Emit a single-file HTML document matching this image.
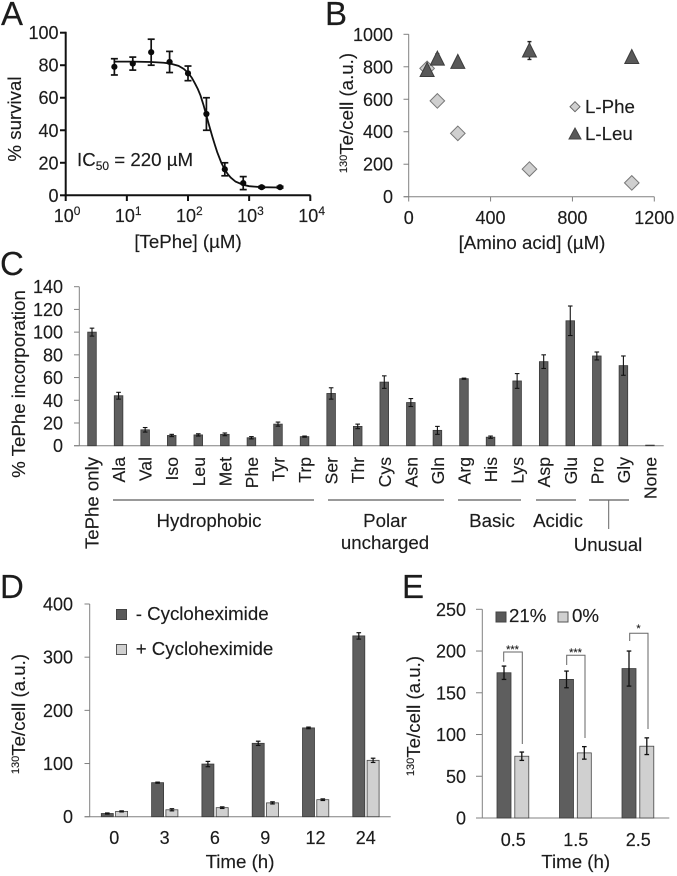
<!DOCTYPE html>
<html lang="en">
<head>
<meta charset="utf-8">
<title>TePhe figure</title>
<style>
html,body{margin:0;padding:0;background:#fff;}
svg{display:block;filter:blur(0.3px);}
text{font-family:"Liberation Sans",sans-serif;fill:#1c1c1c;font-size:18.7px;stroke:#1c1c1c;stroke-width:0.15px;}
.letter{font-size:33px;}
.tk{font-size:18px;}
.mid{text-anchor:middle;}
.end{text-anchor:end;}
</style>
</head>
<body>
<svg id="fig" width="677" height="876" viewBox="0 0 677 876" xmlns="http://www.w3.org/2000/svg">
  <text class="letter" x="1" y="25">A</text>
  <text class="letter" x="325" y="25">B</text>
  <text class="letter" x="0" y="275">C</text>
  <text class="letter" x="0" y="598">D</text>
  <text class="letter" x="402" y="598">E</text>

  <g id="panelA">
    <text class="mid" transform="translate(21,119) rotate(-90)">% survival</text>
    <text class="mid" x="188" y="248">[TePhe] (µM)</text>
    <text x="77" y="166">IC<tspan font-size="12" dy="4">50</tspan><tspan dy="-4"> = 220 µM</tspan></text>
  </g>
  <g id="panelB">
    <text class="mid" transform="translate(353,113) rotate(-90)"><tspan font-size="11" dy="-6">130</tspan><tspan dy="6">Te/cell (a.u.)</tspan></text>
    <text class="mid" x="532" y="249">[Amino acid] (µM)</text>
    <polygon points="575,101.7 580,106.7 575,111.7 570,106.7" fill="#d0d0d0" stroke="#666"/>
    <text x="585" y="113">L-Phe</text>
    <polygon points="575,128 581,139 569,139" fill="#595959" stroke="#444"/>
    <text x="585" y="140">L-Leu</text>
  </g>
  <g id="panelC">
    <text class="mid" transform="translate(25,384) rotate(-90)">% TePhe incorporation</text>
    <g stroke="#333" stroke-width="1">
      <line x1="113" x2="314" y1="500" y2="500"/>
      <line x1="328" x2="444" y1="500" y2="500"/>
      <line x1="458" x2="521" y1="500" y2="500"/>
      <line x1="536" x2="576" y1="500" y2="500"/>
      <line x1="589" x2="629" y1="500" y2="500"/>
      <line x1="608.7" x2="608.7" y1="500" y2="529" stroke="#666"/>
    </g>
    <text class="mid" x="209" y="527">Hydrophobic</text>
    <text class="mid" x="385" y="527">Polar</text>
    <text class="mid" x="385" y="549">uncharged</text>
    <text class="mid" x="492" y="527">Basic</text>
    <text class="mid" x="558" y="527">Acidic</text>
    <text class="mid" x="608" y="551">Unusual</text>
  </g>
  <g id="panelD">
    <text class="mid" transform="translate(25,714) rotate(-90)"><tspan font-size="11" dy="-6">130</tspan><tspan dy="6">Te/cell (a.u.)</tspan></text>
    <text class="mid" x="240" y="868">Time (h)</text>
    <rect x="116.5" y="609.5" width="10" height="10" fill="#595959" stroke="#444"/>
    <text x="135.7" y="620">- Cycloheximide</text>
    <rect x="116.5" y="644.5" width="10" height="10" fill="#d0d0d0" stroke="#555"/>
    <text x="135.7" y="655">+ Cycloheximide</text>
  </g>
  <g id="panelE">
    <text class="mid" transform="translate(420,716) rotate(-90)"><tspan font-size="11" dy="-6">130</tspan><tspan dy="6">Te/cell (a.u.)</tspan></text>
    <text class="mid" x="575.7" y="868">Time (h)</text>
    <rect x="496" y="612" width="10" height="10" fill="#595959" stroke="#444"/>
    <text x="509" y="622">21%</text>
    <rect x="558" y="612" width="10" height="10" fill="#d0d0d0" stroke="#555"/>
    <text x="572" y="622">0%</text>
    <g fill="none" stroke="#666" stroke-width="1">
      <polyline points="503.7,661.7 503.7,652 522.3,652 522.3,744"/>
      <polyline points="566.7,665 566.7,655.3 585,655.3 585,738"/>
      <polyline points="629.7,641 629.7,633.3 648,633.3 648,729"/>
    </g>
    <text class="mid" x="512.5" y="653" style="font-size:11px">***</text>
    <text class="mid" x="575.5" y="656" style="font-size:11px">***</text>
    <text class="mid" x="638.5" y="632" style="font-size:11px">*</text>
  </g>
</svg>
<script>
// Panel A
const aYTicks = [0, 20, 40, 60, 80, 100];
const aXExponents = [0, 1, 2, 3, 4];
const aConc = [6.25, 12.5, 25, 50, 100, 200, 400, 800, 1600, 3200];
const aSurvival = [79, 81, 88, 82, 75, 50, 16, 7.5, 5, 5];
const aError = [5, 4, 8, 6.5, 4.5, 10, 4, 4, 0.5, 0.5];
const aFitConc = [6.25, 12.5, 25, 40, 50, 70, 85, 100, 115, 130, 145, 160, 180, 200, 220, 250, 275, 300, 350, 400, 450, 500, 600, 800, 1000, 1600, 3200];
const aFitSurvival = [82.2, 82.2, 82, 81.5, 81.1, 79.6, 77.8, 75.4, 72.4, 68.8, 65.3, 61.4, 55.3, 49, 43.4, 36.1, 31, 26.6, 20.1, 15.8, 12.9, 10.9, 8.4, 6.4, 5.6, 5, 4.8];

// Panel B
const bYTicks = [0, 200, 400, 600, 800, 1000];
const bXTicks = [0, 400, 800, 1200];
const bConc = [90, 140, 240, 590, 1090];
const bPhe = [790, 590, 390, 170, 85];
const bPheErr = [0, 30, 0, 0, 0];
const bLeu = [780, 850, 830, 900, 860];
const bLeuErr = [0, 30, 0, 55, 0];

// Panel C
const cYTicks = [0, 20, 40, 60, 80, 100, 120, 140];
const cCategories = ['TePhe only', 'Ala', 'Val', 'Iso', 'Leu', 'Met', 'Phe', 'Tyr', 'Trp', 'Ser', 'Thr', 'Cys', 'Asn', 'Gln', 'Arg', 'His', 'Lys', 'Asp', 'Glu', 'Pro', 'Gly', 'None'];
const cValues = [100, 44, 14, 9, 9.5, 10, 7, 19, 8, 46, 17, 56, 38, 13.5, 59, 7.5, 57, 74, 110, 79, 70.5, 0.5];
const cErrors = [3.5, 3, 2, 1, 1, 1.2, 1, 1.8, 0.5, 5, 2, 5.5, 3.5, 3.5, 0.5, 1, 6.5, 6, 13, 3.5, 8.5, 0];

// Panel D
const dYTicks = [0, 100, 200, 300, 400];
const dCategories = ['0', '3', '6', '9', '12', '24'];
const dMinus = [6, 64, 99, 138, 167, 340];
const dMinusErr = [1, 1, 5, 4, 1.5, 6];
const dPlus = [10, 13, 17, 26, 32, 106];
const dPlusErr = [1, 2, 1.5, 2, 1.5, 4];

// Panel E
const eYTicks = [0, 50, 100, 150, 200, 250];
const eCategories = ['0.5', '1.5', '2.5'];
const e21 = [174, 166, 179];
const e21Err = [8, 10, 21];
const e0 = [74, 78, 86];
const e0Err = [5, 7.5, 10];

const NS = 'http://www.w3.org/2000/svg';
function make(parent, tag, attrs, text) {
  const el = document.createElementNS(NS, tag);
  for (const k in attrs) el.setAttribute(k, attrs[k]);
  if (text !== undefined) el.textContent = text;
  parent.appendChild(el);
  return el;
}
function tag(el, name) {
  
  
  return el;
}
function line(parent, x1, y1, x2, y2, stroke, width) {
  return make(parent, 'line', { x1, y1, x2, y2, stroke, 'stroke-width': width });
}
function errorBar(parent, x, yLow, yHigh, capHalf, stroke, width, name) {
  const g = make(parent, 'g', {});
  tag(g, name);
  line(g, x, yLow, x, yHigh, stroke, width);
  line(g, x - capHalf, yLow, x + capHalf, yLow, stroke, width);
  line(g, x - capHalf, yHigh, x + capHalf, yHigh, stroke, width);
  return g;
}
function linear(d0, d1, r0, r1) {
  return v => r0 + (v - d0) * (r1 - r0) / (d1 - d0);
}

/* ---------- A ---------- */
const panelA = document.getElementById('panelA');
const xA = v => 65.7 + Math.log10(v) * 61.15;
const yA = linear(0, 100, 195.3, 32.7);
tag(line(panelA, 65.7, 31.7, 65.7, 196.3, '#111', 2), 'y-axis-line');
tag(line(panelA, 64.7, 195.3, 310.6, 195.3, '#111', 2), 'x-axis-line');
aYTicks.forEach(t => {
  tag(line(panelA, 60, yA(t), 65.7, yA(t), '#111', 2), 'y-tick-' + t);
  tag(make(panelA, 'text', { class: 'end tk', x: 58.5, y: yA(t) + 6.5 }, String(t)), 'y-tick-label-' + t);
});
aXExponents.forEach(e => {
  const x = xA(Math.pow(10, e));
  tag(line(panelA, x, 195.3, x, 201, '#111', 2), 'x-tick-' + e);
  const label = tag(make(panelA, 'text', { class: 'tk', x: x - 12, y: 222 }, '10'), 'x-tick-label-' + e);
  make(label, 'tspan', { 'font-size': 12, dy: -7 }, String(e));
});
tag(make(panelA, 'polyline', {
  fill: 'none', stroke: '#111', 'stroke-width': 1.8,
  points: aFitConc.map((c, i) => xA(c).toFixed(2) + ',' + yA(aFitSurvival[i]).toFixed(2)).join(' ')
}), 'fit-curve');
aConc.forEach((c, i) => {
  errorBar(panelA, xA(c), yA(aSurvival[i] - aError[i]), yA(aSurvival[i] + aError[i]), 3.5, '#111', 1.7, 'error-bar-a-' + i);
  tag(make(panelA, 'circle', { cx: xA(c), cy: yA(aSurvival[i]), r: 3.1, fill: '#0a0a0a' }), 'survival-point-' + i);
});

/* ---------- B ---------- */
const panelB = document.getElementById('panelB');
const xB = linear(0, 1200, 408.7, 654.3);
const yB = linear(0, 1000, 196.7, 34.3);
tag(line(panelB, 408.7, 34.3, 408.7, 196.7, '#808080', 1), 'y-axis-line');
tag(line(panelB, 403.5, 196.7, 654.3, 196.7, '#808080', 1), 'x-axis-line');
bYTicks.forEach(t => {
  tag(line(panelB, 403.5, yB(t), 408.7, yB(t), '#808080', 1), 'y-tick-' + t);
  tag(make(panelB, 'text', { class: 'end tk', x: 393, y: yB(t) + 6.5 }, String(t)), 'y-tick-label-' + t);
});
bXTicks.forEach(t => {
  tag(line(panelB, xB(t), 196.7, xB(t), 201.5, '#808080', 1), 'x-tick-' + t);
  tag(make(panelB, 'text', { class: 'mid tk', x: xB(t), y: 224 }, String(t)), 'x-tick-label-' + t);
});
bConc.forEach((c, i) => {
  const x = xB(c), y = yB(bPhe[i]);
  if (bPheErr[i]) errorBar(panelB, x, yB(bPhe[i] - bPheErr[i]), yB(bPhe[i] + bPheErr[i]), 2, '#333', 1.2, 'error-bar-phe-' + i);
  const d = make(panelB, 'polygon', {
    points: [[x, y - 7.3], [x + 7.3, y], [x, y + 7.3], [x - 7.3, y]].map(p => p.join(',')).join(' '),
    fill: '#cfcfcf', stroke: '#777', 'stroke-width': 1
  });
  tag(d, 'l-phe-point-' + i);
});
bConc.forEach((c, i) => {
  const x = xB(c), y = yB(bLeu[i]);
  if (bLeuErr[i]) errorBar(panelB, x, yB(bLeu[i] - bLeuErr[i]), yB(bLeu[i] + bLeuErr[i]), 2, '#222', 1.4, 'error-bar-leu-' + i);
  const t = make(panelB, 'polygon', {
    points: [[x, y - 7.5], [x + 7, y + 6.5], [x - 7, y + 6.5]].map(p => p.join(',')).join(' '),
    fill: '#595959', stroke: '#3c3c3c', 'stroke-width': 1
  });
  tag(t, 'l-leu-point-' + i);
});

/* ---------- C ---------- */
const panelC = document.getElementById('panelC');
const yC = linear(0, 140, 445.7, 286.7);
const xC = i => 92 + i * 26.57;
tag(line(panelC, 79.3, 286.7, 79.3, 445.7, '#808080', 1), 'y-axis-line');
tag(line(panelC, 74, 445.7, 663.7, 445.7, '#808080', 1), 'x-axis-line');
cYTicks.forEach(t => {
  tag(line(panelC, 74, yC(t), 79.3, yC(t), '#808080', 1), 'y-tick-' + t);
  tag(make(panelC, 'text', { class: 'end tk', x: 63, y: yC(t) + 6.5 }, String(t)), 'y-tick-label-' + t);
});
cCategories.forEach((c, i) => {
  const x = xC(i), y = yC(cValues[i]);
  tag(make(panelC, 'rect', { x: x - 4.3, y, width: 8.6, height: 445.7 - y, fill: '#5e5e5e', stroke: '#3a3a3a', 'stroke-width': 0.8 }), 'bar-' + c.toLowerCase().replace(' ', '-'));
  if (cErrors[i]) errorBar(panelC, x, yC(cValues[i] - cErrors[i]), yC(cValues[i] + cErrors[i]), 2.3, '#111', 1.1, 'error-bar-c-' + i);
  const labelSize = c === 'TePhe only' ? 18.6 : 17.6;
  const label = make(panelC, 'text', { class: 'end', transform: 'translate(' + (x + 6.5) + ',457) rotate(-90)', style: 'font-size:' + labelSize + 'px' }, c);
  tag(label, 'x-tick-label-' + c.toLowerCase().replace(' ', '-'));
});

/* ---------- D ---------- */
const panelD = document.getElementById('panelD');
const yD = linear(0, 400, 816.7, 604);
const xD = i => 114.3 + i * 50.3;
tag(line(panelD, 89.7, 604, 89.7, 816.7, '#808080', 1), 'y-axis-line');
tag(line(panelD, 84.5, 816.7, 390.7, 816.7, '#808080', 1), 'x-axis-line');
dYTicks.forEach(t => {
  tag(line(panelD, 84.5, yD(t), 89.7, yD(t), '#808080', 1), 'y-tick-' + t);
  tag(make(panelD, 'text', { class: 'end tk', x: 73, y: yD(t) + 6.5 }, String(t)), 'y-tick-label-' + t);
});
dCategories.forEach((c, i) => {
  const x = xD(i);
  tag(make(panelD, 'rect', { x: x - 13, y: yD(dMinus[i]), width: 12, height: 816.7 - yD(dMinus[i]), fill: '#5e5e5e', stroke: '#3a3a3a', 'stroke-width': 0.8 }), 'bar-minus-' + c);
  tag(make(panelD, 'rect', { x: x + 1.3, y: yD(dPlus[i]), width: 12, height: 816.7 - yD(dPlus[i]), fill: '#d0d0d0', stroke: '#444', 'stroke-width': 0.8 }), 'bar-plus-' + c);
  errorBar(panelD, x - 7, yD(dMinus[i] - dMinusErr[i]), yD(dMinus[i] + dMinusErr[i]), 2.3, '#111', 1.2, 'error-bar-minus-' + c);
  errorBar(panelD, x + 7.3, yD(dPlus[i] - dPlusErr[i]), yD(dPlus[i] + dPlusErr[i]), 2.3, '#111', 1.2, 'error-bar-plus-' + c);
  tag(make(panelD, 'text', { class: 'mid tk', x, y: 844 }, c), 'x-tick-label-' + c);
});

/* ---------- E ---------- */
const panelE = document.getElementById('panelE');
const yE = linear(0, 250, 818, 609.3);
const xE = i => 513.3 + i * 62.5;
tag(line(panelE, 482.3, 609.3, 482.3, 818, '#808080', 1), 'y-axis-line');
tag(line(panelE, 476, 818, 669.3, 818, '#808080', 1), 'x-axis-line');
eYTicks.forEach(t => {
  tag(line(panelE, 476, yE(t), 482.3, yE(t), '#808080', 1), 'y-tick-' + t);
  tag(make(panelE, 'text', { class: 'end tk', x: 466, y: yE(t) + 6.5 }, String(t)), 'y-tick-label-' + t);
});
eCategories.forEach((c, i) => {
  const x = xE(i);
  tag(make(panelE, 'rect', { x: x - 16.3, y: yE(e21[i]), width: 14, height: 818 - yE(e21[i]), fill: '#5e5e5e', stroke: '#3a3a3a', 'stroke-width': 0.8 }), 'bar-21-' + c);
  tag(make(panelE, 'rect', { x: x + 1.5, y: yE(e0[i]), width: 14, height: 818 - yE(e0[i]), fill: '#d0d0d0', stroke: '#444', 'stroke-width': 0.8 }), 'bar-0-' + c);
  errorBar(panelE, x - 9.3, yE(e21[i] - e21Err[i]), yE(e21[i] + e21Err[i]), 2.3, '#111', 1.3, 'error-bar-21-' + c);
  errorBar(panelE, x + 8.5, yE(e0[i] - e0Err[i]), yE(e0[i] + e0Err[i]), 2.3, '#111', 1.3, 'error-bar-0-' + c);
  tag(make(panelE, 'text', { class: 'mid tk', x, y: 846 }, c), 'x-tick-label-' + c);
});
</script>
</body>
</html>
